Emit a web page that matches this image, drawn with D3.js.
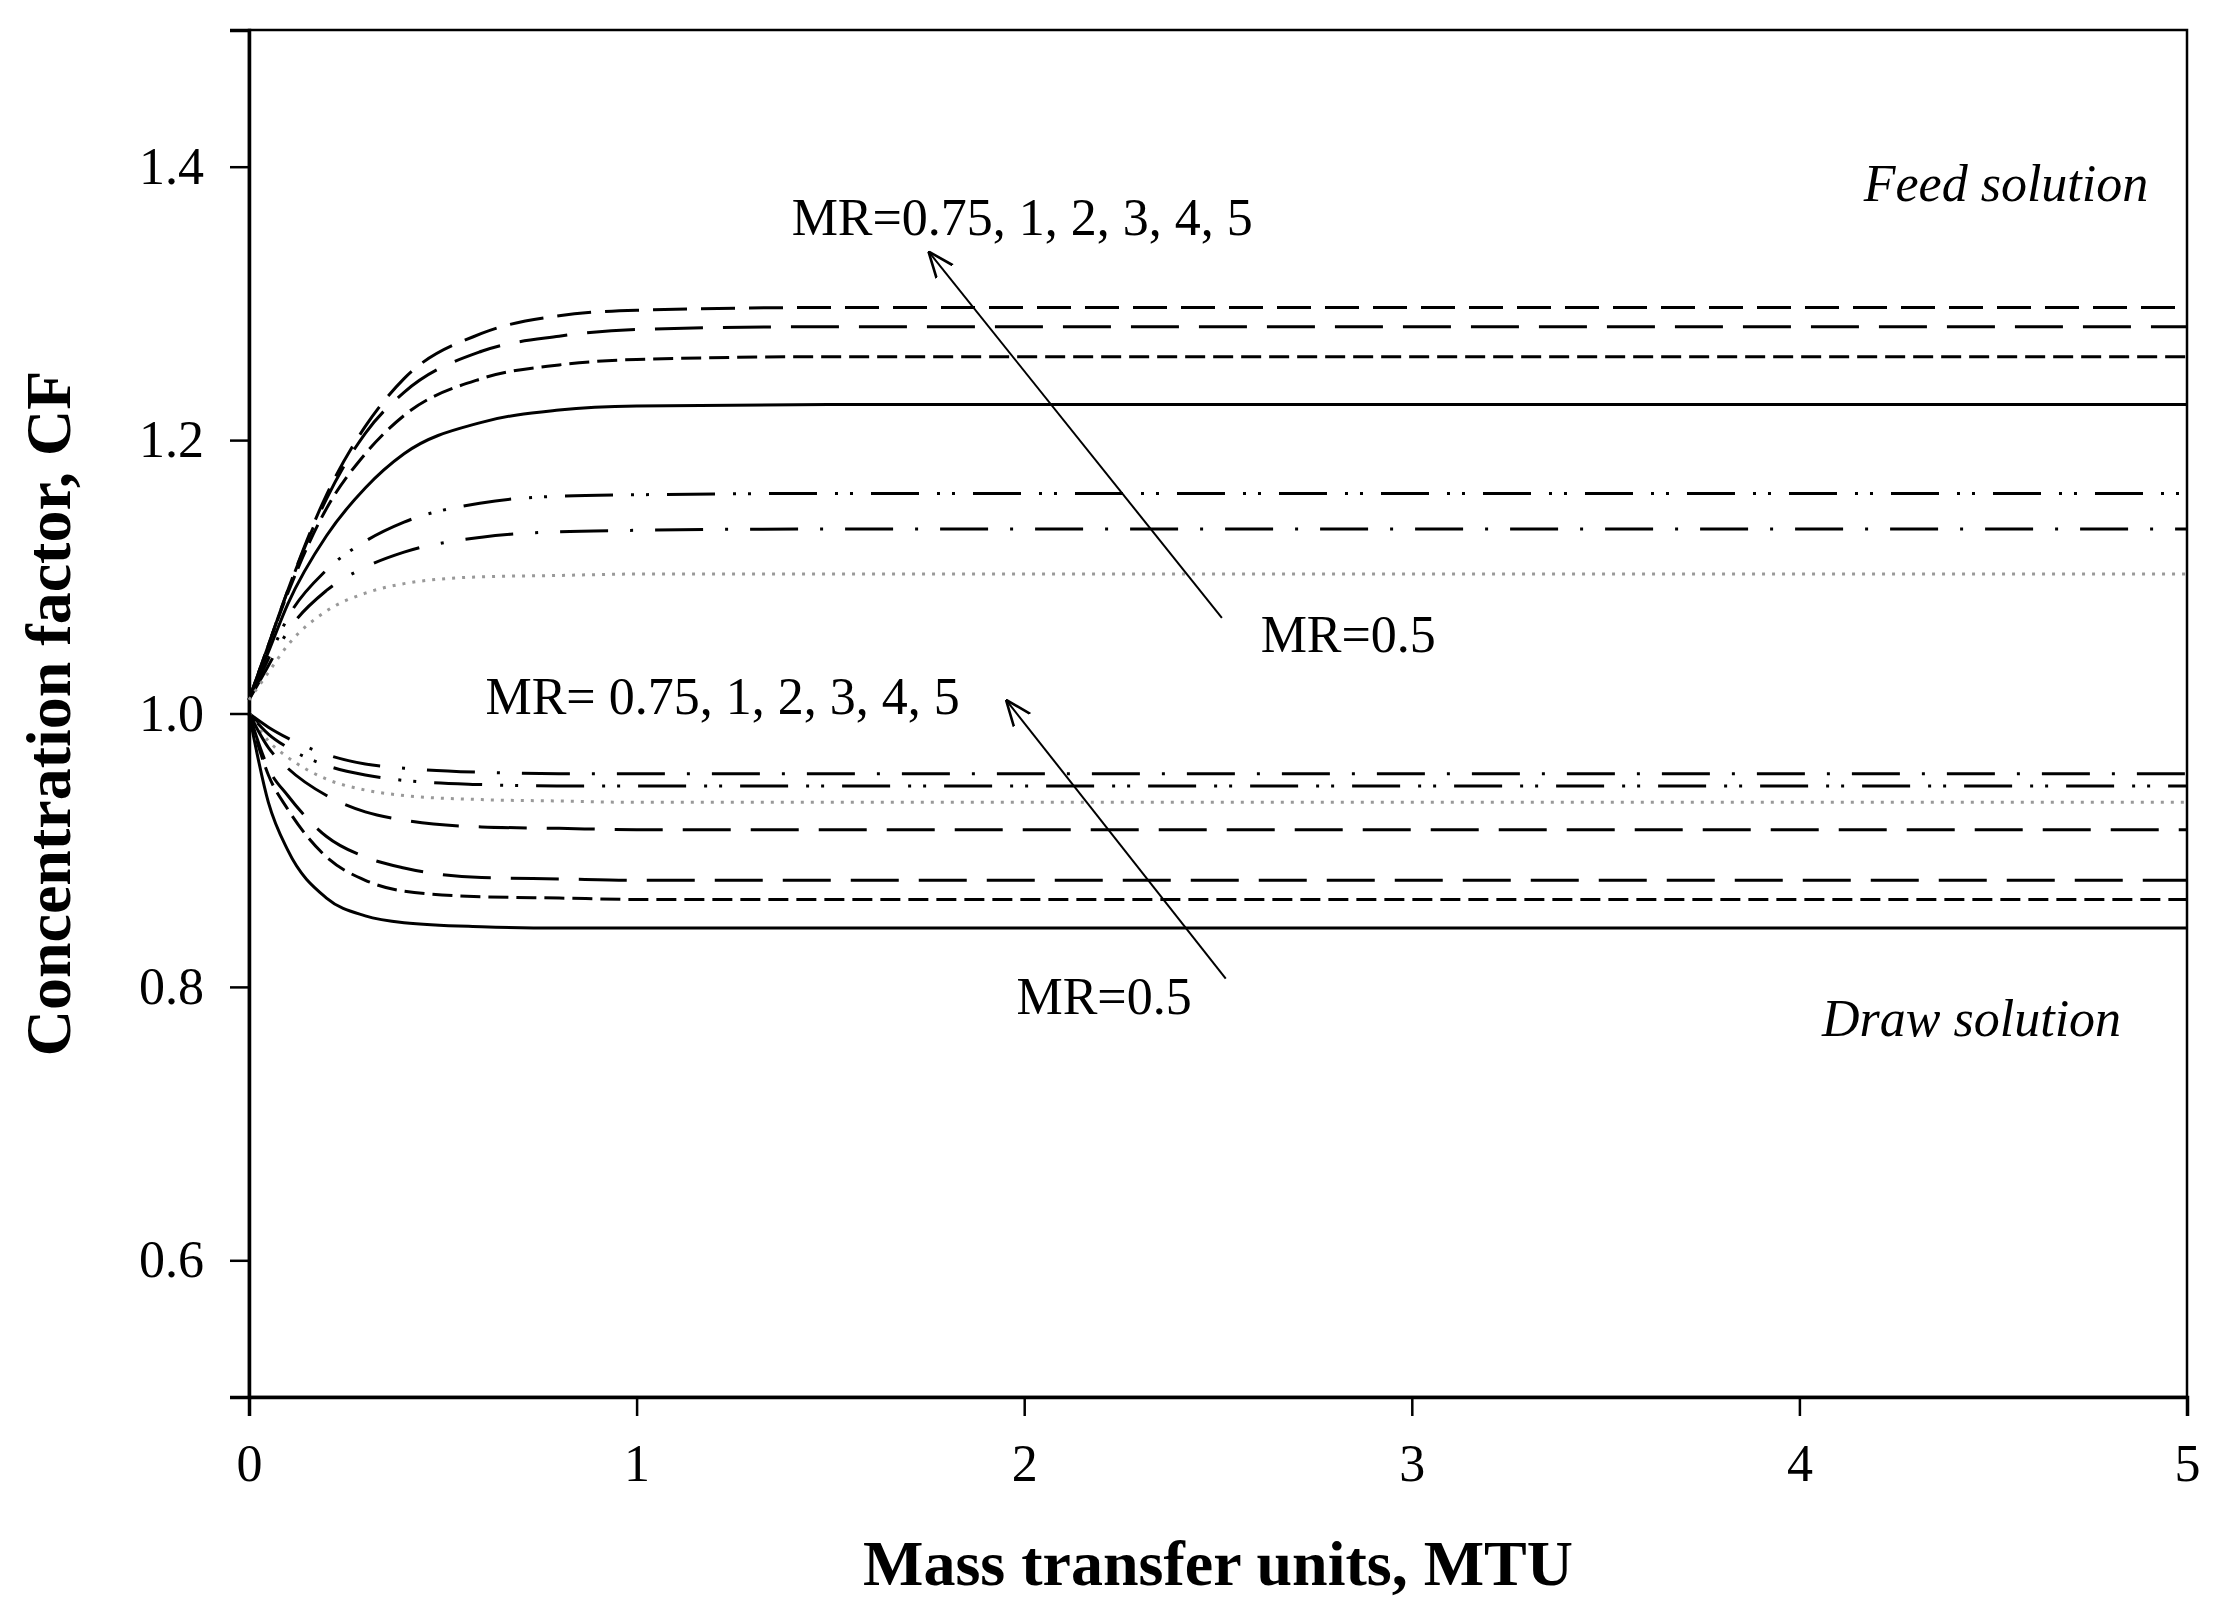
<!DOCTYPE html>
<html><head><meta charset="utf-8">
<script src="https://cdn.jsdelivr.net/npm/d3@7"></script>
<style>body{margin:0;background:#fff}svg{display:block}</style>
</head><body>
<svg id="chart"></svg>
<script>
const mtu = [0, 0.05, 0.1, 0.2, 0.3, 0.4, 0.6, 0.8, 1, 1.5, 5];

// feed solution curves
const feedA = [1.01, 1.05, 1.09, 1.16, 1.21, 1.245, 1.278, 1.291, 1.295, 1.297, 1.297];
const feedB = [1.01, 1.05, 1.09, 1.157, 1.205, 1.235, 1.265, 1.276, 1.281, 1.283, 1.283];
const feedC = [1.01, 1.05, 1.088, 1.15, 1.19, 1.218, 1.245, 1.255, 1.259, 1.261, 1.261];
const feedD = [1.01, 1.045, 1.08, 1.13, 1.165, 1.19, 1.213, 1.222, 1.225, 1.226, 1.226];
const feedE = [1.01, 1.04, 1.07, 1.105, 1.126, 1.14, 1.154, 1.159, 1.16, 1.161, 1.161];
const feedF = [1.01, 1.035, 1.06, 1.09, 1.107, 1.118, 1.129, 1.133, 1.134, 1.135, 1.135];
const feedG = [1.01, 1.03, 1.05, 1.075, 1.088, 1.095, 1.1, 1.101, 1.102, 1.102, 1.102];

// draw solution curves
const drawA = [1.0, 0.99, 0.982, 0.97, 0.963, 0.96, 0.957, 0.956, 0.956, 0.956, 0.956];
const drawB = [1.0, 0.985, 0.975, 0.962, 0.955, 0.951, 0.948, 0.947, 0.947, 0.947, 0.947];
const drawC = [1.0, 0.98, 0.968, 0.952, 0.944, 0.94, 0.937, 0.936, 0.935, 0.935, 0.935];
const drawD = [1.0, 0.975, 0.96, 0.94, 0.928, 0.922, 0.917, 0.916, 0.915, 0.915, 0.915];
const drawE = [1.0, 0.96, 0.94, 0.91, 0.895, 0.887, 0.88, 0.879, 0.878, 0.878, 0.878];
const drawF = [1.0, 0.955, 0.93, 0.895, 0.878, 0.87, 0.866, 0.865, 0.864, 0.864, 0.864];
const drawG = [1.0, 0.935, 0.9, 0.865, 0.852, 0.847, 0.844, 0.843, 0.843, 0.843, 0.843];

const xTicks = [0, 1, 2, 3, 4, 5];
const yTicks = [0.6, 0.8, 1.0, 1.2, 1.4];

const dashes = {
  solid: null,
  short: "20,8",
  medium: "34,14",
  long: "48,20",
  dashDot: "48,22,3,22",
  dashDotDot: "48,18,3,12,3,18",
  dotted: "3,7"
};

const series = [
  {v: feedA, d: dashes.medium, c: "#000"},
  {v: feedB, d: dashes.long, c: "#000"},
  {v: feedC, d: dashes.short, c: "#000"},
  {v: feedD, d: dashes.solid, c: "#000"},
  {v: feedE, d: dashes.dashDotDot, c: "#000"},
  {v: feedF, d: dashes.dashDot, c: "#000"},
  {v: feedG, d: dashes.dotted, c: "#999"},
  {v: drawA, d: dashes.dashDot, c: "#000"},
  {v: drawB, d: dashes.dashDotDot, c: "#000"},
  {v: drawC, d: dashes.dotted, c: "#999"},
  {v: drawD, d: dashes.long, c: "#000"},
  {v: drawE, d: dashes.long, c: "#000"},
  {v: drawF, d: dashes.short, c: "#000"},
  {v: drawG, d: dashes.solid, c: "#000"}
];

const labels = [
  {t: "MR=0.75, 1, 2, 3, 4, 5", x: 1.4, y: 1.35},
  {t: "MR=0.5", x: 2.61, y: 1.045},
  {t: "MR= 0.75, 1, 2, 3, 4, 5", x: 0.61, y: 1.0},
  {t: "MR=0.5", x: 1.98, y: 0.78}
];
const arrows = [
  {x1: 2.51, y1: 1.070, x2: 1.753, y2: 1.338},
  {x1: 2.52, y1: 0.806, x2: 1.953, y2: 1.010}
];

const W = 2216, H = 1614;
const m = {top: 30, right: 29, bottom: 217, left: 249};
const svg = d3.select("#chart").attr("width", W).attr("height", H);
const font = "'Liberation Serif', 'Times New Roman', serif";

const x = d3.scaleLinear().domain([0, 5]).range([m.left, W - m.right]);
const y = d3.scaleLinear().domain([0.5, 1.5]).range([H - m.bottom, m.top]);

// frame
svg.append("rect").attr("x", m.left).attr("y", m.top)
  .attr("width", W - m.left - m.right).attr("height", H - m.top - m.bottom)
  .attr("fill", "none").attr("stroke", "#000").attr("stroke-width", 2.5);

const xAxis = svg.append("g").attr("transform", `translate(0,${H - m.bottom})`)
  .call(d3.axisBottom(x).tickValues(xTicks).tickSize(19).tickPadding(28).tickFormat(d3.format("d")));
const yAxis = svg.append("g").attr("transform", `translate(${m.left},0)`)
  .call(d3.axisLeft(y).tickValues(yTicks).tickSize(19).tickPadding(26).tickFormat(d3.format(".1f")));
[xAxis, yAxis].forEach(g => {
  g.select(".domain").attr("stroke-width", 3.5);
  g.selectAll(".tick line").attr("stroke-width", 2.5);
  g.selectAll("text").attr("font-family", font).attr("font-size", 52).attr("fill", "#000");
});

const line = d3.line().x((d, i) => x(mtu[i])).y(d => y(d)).curve(d3.curveMonotoneX);
svg.append("g").selectAll("path").data(series).join("path")
  .attr("d", d => line(d.v))
  .attr("fill", "none")
  .attr("stroke", d => d.c)
  .attr("stroke-width", 3)
  .attr("stroke-dasharray", d => d.d);

// text labels
svg.append("g").selectAll("text").data(labels).join("text")
  .attr("x", d => x(d.x)).attr("y", d => y(d.y))
  .attr("font-family", font).attr("font-size", 52).text(d => d.t);

svg.append("text").attr("x", x(4.9)).attr("y", y(1.375)).attr("text-anchor", "end")
  .attr("font-family", font).attr("font-size", 52).attr("font-style", "italic").text("Feed solution");
svg.append("text").attr("x", x(4.83)).attr("y", y(0.764)).attr("text-anchor", "end")
  .attr("font-family", font).attr("font-size", 52).attr("font-style", "italic").text("Draw solution");

// arrows
svg.append("defs").append("marker").attr("id", "ah")
  .attr("viewBox", "0 0 20 20").attr("refX", 20).attr("refY", 10)
  .attr("markerWidth", 26).attr("markerHeight", 26).attr("markerUnits", "userSpaceOnUse")
  .attr("orient", "auto")
  .append("path").attr("d", "M0,2 L20,10 L0,18").attr("fill", "none").attr("stroke", "#000").attr("stroke-width", 2);
svg.append("g").selectAll("line").data(arrows).join("line")
  .attr("x1", d => x(d.x1)).attr("y1", d => y(d.y1))
  .attr("x2", d => x(d.x2)).attr("y2", d => y(d.y2))
  .attr("stroke", "#000").attr("stroke-width", 2).attr("marker-end", "url(#ah)");

// axis titles
svg.append("text").attr("x", (m.left + W - m.right) / 2).attr("y", 1585)
  .attr("text-anchor", "middle").attr("font-family", font).attr("font-weight", "bold")
  .attr("font-size", 64).text("Mass transfer units, MTU");
svg.append("text").attr("transform", `translate(70,${(m.top + H - m.bottom) / 2}) rotate(-90)`)
  .attr("text-anchor", "middle").attr("font-family", font).attr("font-weight", "bold")
  .attr("font-size", 64).text("Concentration factor, CF");
</script>
</body></html>
